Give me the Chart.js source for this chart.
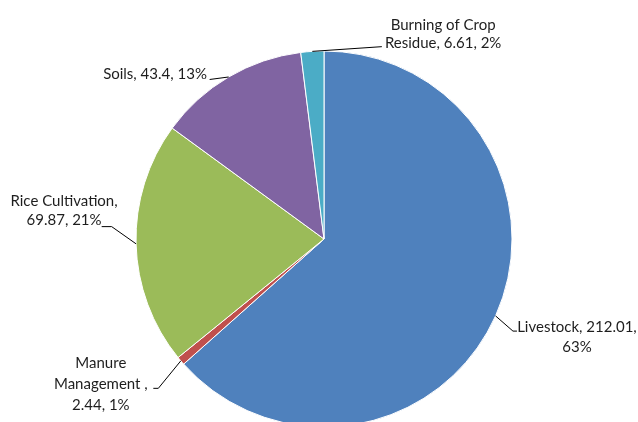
<!DOCTYPE html>
<html>
<head>
<meta charset="utf-8">
<script src="https://cdn.jsdelivr.net/npm/chart.js@4.4.1/dist/chart.umd.min.js"></script>
<style>
  html, body { margin: 0; padding: 0; background: #fff; overflow: hidden; }
  #wrap { width: 638px; height: 427px; position: relative; }
</style>
</head>
<body>
<div id="wrap"><canvas id="c" width="638" height="427"></canvas></div>
<script>
// ---- Data ----
const categories = ["Livestock", "Manure\nManagement ", "Rice Cultivation", "Soils", "Burning of Crop\nResidue"];
const values = [212.01, 2.44, 69.87, 43.4, 6.61];
const colors = ["#4F81BD", "#C0504D", "#9BBB59", "#8064A2", "#4BACC6"];
// separators between name/value and value/percent in each label
const separators = [[", ", ",\n"], [",\n", ", "], [",\n", ", "], [", ", ", "], [", ", ", "]];

// ---- Label placement (relative to the slice's outer mid point) ----
const labelLayout = [
  { dx: 81.4, dy: 15.9, lh: 20, leader: [[17.4, 15.2], [21.4, 15.2]] },
  { dx: -80, dy: 7.5, lh: 20.7, leader: [[-22.5, 27.5], [-27.5, 27.5]] },
  { dx: -72, dy: -38.2, lh: 19.5, leader: [[-24.4, -17.2], [-34.4, -17.2]] },
  { dx: -73.6, dy: 2.5, lh: 20, leader: [[-19, 2.5]] },
  { dx: 130.8, dy: -21.4, lh: 17.7, leader: [[69.5, -4.7]] }
];

const total = values.reduce((a, b) => a + b, 0);
function labelText(i) {
  const pct = Math.round(values[i] / total * 100) + "%";
  return (categories[i] + separators[i][0] + values[i] + separators[i][1] + pct).split("\n");
}

const labelPlugin = {
  id: "pieLabels",
  afterDatasetsDraw(chart) {
    const ctx = chart.ctx;
    const meta = chart.getDatasetMeta(0);
    ctx.save();
    ctx.font = "15px Lato";
    ctx.fillStyle = "#1e1e1e";
    ctx.strokeStyle = "#000000";
    ctx.lineWidth = 1;
    ctx.textAlign = "center";
    ctx.textBaseline = "alphabetic";
    meta.data.forEach((arc, i) => {
      const p = arc.getProps(["x", "y", "startAngle", "endAngle", "outerRadius"], true);
      const mid = (p.startAngle + p.endAngle) / 2;
      const ax = p.x + Math.cos(mid) * p.outerRadius;
      const ay = p.y + Math.sin(mid) * p.outerRadius;
      const L = labelLayout[i];
      ctx.beginPath();
      ctx.moveTo(ax, ay);
      L.leader.forEach(pt => ctx.lineTo(ax + pt[0], ay + pt[1]));
      ctx.stroke();
      labelText(i).forEach((line, k) => {
        ctx.fillText(line, ax + L.dx, ay + L.dy + k * L.lh);
      });
    });
    ctx.restore();
  }
};

new Chart(document.getElementById("c"), {
  type: "pie",
  data: {
    labels: categories.map(c => c.replace("\n", " ")),
    datasets: [{
      data: values,
      backgroundColor: colors,
      borderColor: "#ffffff",
      borderWidth: 1
    }]
  },
  options: {
    responsive: false,
    devicePixelRatio: 1,
    animation: false,
    radius: 188,
    layout: { padding: { left: 136, right: 126, top: 51, bottom: 0 } },
    plugins: {
      legend: { display: false },
      tooltip: { enabled: false },
      title: { display: false }
    }
  },
  plugins: [labelPlugin]
});
</script>
</body>
</html>
